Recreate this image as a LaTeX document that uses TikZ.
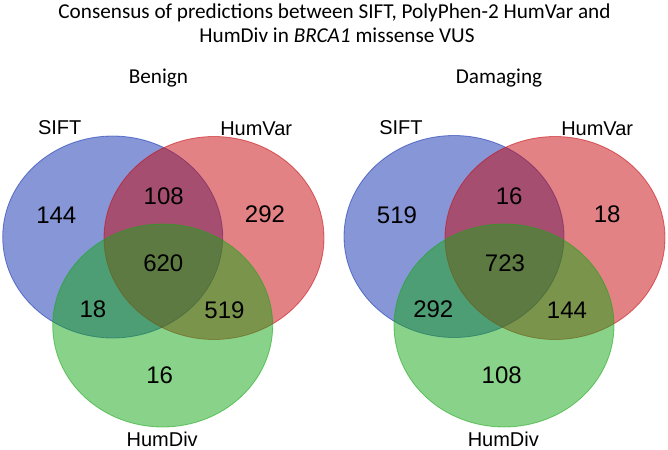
\documentclass[tikz,border=0pt]{standalone}
\usepackage{fontspec}
\setmainfont{Liberation Sans}
\newfontfamily\titlefont{Carlito}
\definecolor{vblue}{RGB}{15,47,177}
\definecolor{vred}{RGB}{199,7,11}
\definecolor{vgreen}{RGB}{21,167,21}
\begin{document}
\begin{tikzpicture}[x=1pt,y=-1pt,
  setshape/.style={fill opacity=0.5, draw opacity=0.55, line width=0.8pt},
  num/.style={font=\fontsize{24}{24}\selectfont, inner sep=0pt},
  lab/.style={font=\fontsize{20}{20}\selectfont, inner sep=0pt, anchor=base},
  ttl/.style={font=\titlefont\fontsize{21.2}{24}\selectfont, inner sep=0pt, anchor=base}]
\useasboundingbox (0,0) rectangle (668,449);
\fill[white] (0,0) rectangle (668,449);

% title
\node[ttl] (t1) at (334.5,18.5) {Consensus of predictions between SIFT, PolyPhen-2 HumVar and};
\node[ttl] (t2) at (337,42.3) {HumDiv in \textit{BRCA1} missense VUS};
\node[ttl] (benign) at (158.5,84) {Benign};
\node[ttl] (damaging) at (499,84) {Damaging};

% left Venn
\path[setshape, fill=vblue, draw=vblue] (112.7,237) ellipse [x radius=110pt, y radius=101pt];
\path[setshape, fill=vred, draw=vred] (214,238) ellipse [x radius=110pt, y radius=101.5pt];
\path[setshape, fill=vgreen, draw=vgreen] (162.7,325.5) ellipse [x radius=110pt, y radius=101.5pt];
\node[lab] (lsift) at (59.7,135) {SIFT};
\node[lab] (lvar) at (256.2,136) {HumVar};
\node[lab] (ldiv) at (162.2,446) {HumDiv};
\node[num] (la) at (56.3,215) {144};
\node[num] (lab1) at (163.7,196.3) {108};
\node[num] (lb) at (265,213.8) {292};
\node[num] (labc) at (163.3,263.7) {620};
\node[num] (lac) at (93,309) {18};
\node[num] (lbc) at (224.5,310) {519};
\node[num] (lc) at (159.7,375.3) {16};

% right Venn
\path[setshape, fill=vblue, draw=vblue] (454,236.5) ellipse [x radius=110pt, y radius=101pt];
\path[setshape, fill=vred, draw=vred] (555,238) ellipse [x radius=110pt, y radius=101.5pt];
\path[setshape, fill=vgreen, draw=vgreen] (504,325.5) ellipse [x radius=110pt, y radius=101.5pt];
\node[lab] (rsift) at (401,135) {SIFT};
\node[lab] (rvar) at (597.2,136) {HumVar};
\node[lab] (rdiv) at (503.3,446) {HumDiv};
\node[num] (ra) at (397,215) {519};
\node[num] (rab) at (509.2,196.3) {16};
\node[num] (rb) at (607.2,213.8) {18};
\node[num] (rabc) at (505,263.7) {723};
\node[num] (rac) at (433.3,309) {292};
\node[num] (rbc) at (567,310) {144};
\node[num] (rc) at (501.7,375) {108};
\end{tikzpicture}
\end{document}
